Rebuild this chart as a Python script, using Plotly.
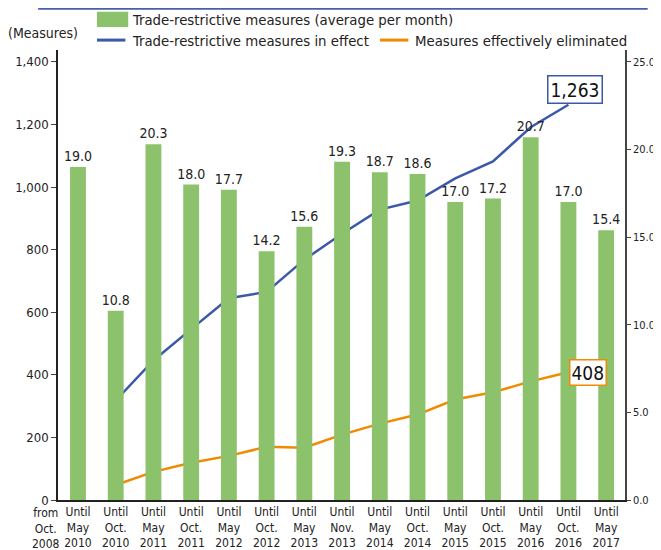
import plotly.graph_objects as go

months = ['Until<br>May<br>2010', 'Until<br>Oct.<br>2010', 'Until<br>May<br>2011', 'Until<br>Oct.<br>2011',
          'Until<br>May<br>2012', 'Until<br>Oct.<br>2012', 'Until<br>May<br>2013', 'Until<br>Nov.<br>2013',
          'Until<br>May<br>2014', 'Until<br>Oct.<br>2014', 'Until<br>May<br>2015', 'Until<br>Oct.<br>2015',
          'Until<br>May<br>2016', 'Until<br>Oct.<br>2016', 'Until<br>May<br>2017']
start_label = 'from<br>Oct.<br>2008'

avg_per_month = [19.0, 10.8, 20.3, 18.0, 17.7, 14.2, 15.6, 19.3, 18.7, 18.6, 17.0, 17.2, 20.7, 17.0, 15.4]

line_cats = months[1:14]
in_effect = [318, 446, 546, 645, 665, 768, 851, 928, 957, 1028, 1082, 1191, 1263]
eliminated = [48, 90, 119, 141, 170, 167, 209, 244, 273, 321, 344, 379, 408]

FONT = 'DejaVu Sans Condensed, Liberation Sans Narrow, Arial Narrow, sans-serif'
GREEN = '#8cc26b'
BLUE = '#3b59a8'
ORANGE = '#f08a00'

fig = go.Figure()

fig.add_trace(go.Bar(x=months, y=avg_per_month, yaxis='y2',
                     name='Trade-restrictive measures (average per month)',
                     marker=dict(color=GREEN, line=dict(width=0)),
                     width=0.42,
                     text=[f'{v:.1f}' for v in avg_per_month],
                     textposition='outside', constraintext='none', cliponaxis=False,
                     textfont=dict(size=14, color='#222', family=FONT),
                     showlegend=False))

fig.add_trace(go.Scatter(x=line_cats, y=in_effect, mode='lines',
                         name='Trade-restrictive measures in effect',
                         line=dict(color=BLUE, width=2.5), showlegend=False))
fig.add_trace(go.Scatter(x=line_cats, y=eliminated, mode='lines',
                         name='Measures effectively eliminated',
                         line=dict(color=ORANGE, width=2.5), showlegend=False))

# boxed end values
fig.add_annotation(x=line_cats[-1], y=in_effect[-1], text='1,263', showarrow=False,
                   xshift=7, yshift=15, font=dict(size=19, color='#111', family=FONT),
                   bordercolor=BLUE, borderwidth=1.5, borderpad=2, bgcolor='white')
fig.add_annotation(x=line_cats[-1], y=eliminated[-1], text='408', showarrow=False,
                   xshift=20, yshift=0, font=dict(size=19, color='#111', family=FONT),
                   bordercolor=ORANGE, borderwidth=1.5, borderpad=1, bgcolor='white')

# start-of-period label left of the first bar
fig.add_annotation(x=-0.021, y=-0.008, xref='paper', yref='paper', text=start_label,
                   showarrow=False, xanchor='center', yanchor='top', align='center',
                   font=dict(size=12, color='#222', family=FONT))

fig.add_annotation(x=-0.092, y=1.038, xref='paper', yref='paper', text='(Measures)',
                   showarrow=False, xanchor='left', yanchor='middle',
                   font=dict(size=14, color='#222', family=FONT))

# hand-drawn legend
legend_items = [
    ('rect', GREEN, 'Trade-restrictive measures (average per month)', 0.0688, 1.068),
    ('line', BLUE, 'Trade-restrictive measures in effect', 0.0688, 1.022),
    ('line', ORANGE, 'Measures effectively eliminated', 0.568, 1.022),
]
for kind, color, label, x0, yc in legend_items:
    if kind == 'rect':
        fig.add_shape(type='rect', xref='paper', yref='paper', x0=x0, x1=x0 + 0.055,
                      y0=yc - 0.017, y1=yc + 0.017, fillcolor=color, line=dict(width=0))
    else:
        fig.add_shape(type='line', xref='paper', yref='paper', x0=x0, x1=x0 + 0.05,
                      y0=yc, y1=yc, line=dict(color=color, width=3))
    fig.add_annotation(x=x0 + 0.058, y=yc, xref='paper', yref='paper', text=label,
                       showarrow=False, xanchor='left', yanchor='middle',
                       font=dict(size=14.8, color='#222', family=FONT))

# blue rule along the top edge
fig.add_shape(type='line', xref='paper', yref='paper', x0=-0.035, x1=1.04, y0=1.092, y1=1.092,
              line=dict(color='#4a5eaa', width=2.5))

# page body has an 8px margin, so the figure is sized to the visible area
fig.update_layout(
    width=653, height=542,
    margin=dict(l=50, r=36, t=42, b=50, autoexpand=False),
    plot_bgcolor='white', paper_bgcolor='white',
    font=dict(family=FONT, size=14, color='#222'),
    showlegend=False,
    xaxis=dict(type='category', range=[-0.53, 14.5], tickangle=0, showline=True,
               linecolor='#222', linewidth=1.5, showgrid=False, ticks='', automargin=False,
               tickfont=dict(size=12, family=FONT)),
    yaxis=dict(range=[0, 1438], tickvals=[0, 200, 400, 600, 800, 1000, 1200, 1400],
               tickformat=',', showgrid=False, zeroline=False, automargin=False,
               showline=True, linecolor='#222', linewidth=1.5, ticks='outside', ticklen=5,
               tickfont=dict(size=13, family=FONT)),
    yaxis2=dict(range=[0, 25.68], tickvals=[0, 5, 10, 15, 20, 25], tickformat='.1f',
                overlaying='y', side='right', automargin=False,
                showgrid=False, zeroline=False, showline=True, linecolor='#444', linewidth=1.5,
                ticks='outside', ticklen=4, tickfont=dict(size=11, family=FONT)),
)

fig.write_html('out.html')
